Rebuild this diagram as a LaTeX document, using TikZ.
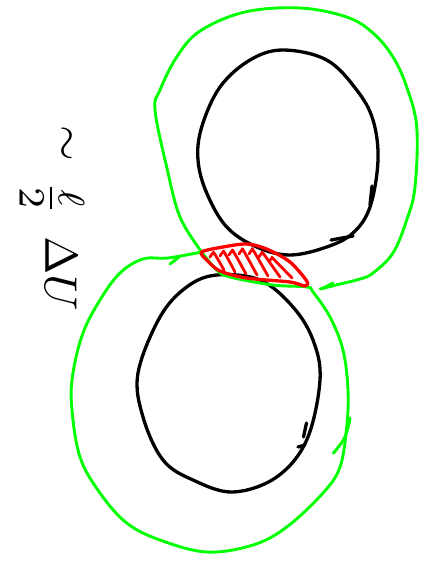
\documentclass[tikz,border=0pt]{standalone}
\begin{document}
\begin{tikzpicture}[x=1pt,y=-1pt,
  blackline/.style={line width=3.3pt,black,line cap=round,line join=round},
  greenline/.style={line width=2.9pt,color={rgb,255:red,0;green,255;blue,0},line cap=round,line join=round},
  redline/.style={line width=3.3pt,color={rgb,255:red,255;green,0;blue,0},line cap=round,line join=round},
  hatch/.style={line width=2.8pt,color={rgb,255:red,255;green,0;blue,0},line cap=round,line join=round},
  handtext/.style={rotate=-90,inner sep=0pt}]
\useasboundingbox (0,0) rectangle (429,563);

% upper black loop
\draw[blackline] plot[smooth cycle,tension=0.6] coordinates {(283,50) (326.7,60) (356.7,90) (373,120) (378,160) (370,207) (353,233) (326.7,247) (290,255) (256.7,247) (226.7,227) (206.7,193) (198,160) (201.7,127) (220,87) (250,60)};
\draw[blackline] (370,205) -- (372,186);
\draw[blackline] (353,236) -- (331,240);

% lower black loop
\draw[blackline] plot[smooth cycle,tension=0.6] coordinates {(216.7,275) (260,280) (293,307) (313,340) (320,380) (306.7,440) (276.7,477) (233,492) (193,480) (163,460) (143,417) (138,373) (160,317) (186.7,287)};
\draw[blackline] (303.5,437) -- (306.5,423);
\draw[blackline] (298,447) -- (305,445);

% upper green loop
\draw[greenline] plot[smooth,tension=0.6] coordinates {(320,289) (336,285) (360,279) (373,273) (393,253) (406.7,220) (415,187) (416.7,127) (406.7,87) (393,57) (373,33) (346.7,17) (300,8) (245,12) (200,31) (176.7,57) (160,90) (155,110) (166.7,167) (180,217) (201.7,252)};
\draw[greenline] (321.5,289) -- (333,283);

% shared bottom and lower green loop
\draw[greenline] plot[smooth,tension=0.6] coordinates {(201.7,252) (216.7,270) (230,277) (273,285) (306.7,287) (313,292) (330,317) (343,350) (348,390) (346.7,427) (340,467) (323,493) (286.7,527) (253,545) (206.7,552) (160,540) (126.7,523) (100,493) (80,457) (71.7,407) (73,373) (83,333) (100,300) (120,273) (143,259) (168,258) (201.7,252)};
\draw[greenline] (170,264) -- (179,257);
\draw[greenline] plot[smooth,tension=0.6] coordinates {(333.3,453.3) (343.3,440) (348.3,426.7) (350,418)};

% red hatched overlap
\draw[redline] plot[smooth cycle,tension=0.5] coordinates {(201.7,252) (223,247) (246.7,244) (266.7,249) (290,262) (306.7,281) (305,286) (290,282) (246.7,278) (220,271) (206.7,260)};
\foreach \x/\y/\u/\v in {213/253/224/270, 223/252/235/272, 232/251/246/274, 242/250/257/275, 252/250/268/276, 262/253/280/277, 272/258/292/278}
  \draw[hatch] plot[smooth,tension=0.7] coordinates {(\x-3,\y+4) (\x,\y) (\x+2,\y+1.5) (\u,\v)};

% rotated handwritten label
\node[handtext,scale=4.6] (tilde) at (64,143) {$\sim$};
\node[handtext,scale=5.3] (frac) at (52,198) {$\frac{\ell}{2}$};
\node[handtext,scale=4.6] (dU) at (61,274) {$\Delta U$};
\end{tikzpicture}
\end{document}
